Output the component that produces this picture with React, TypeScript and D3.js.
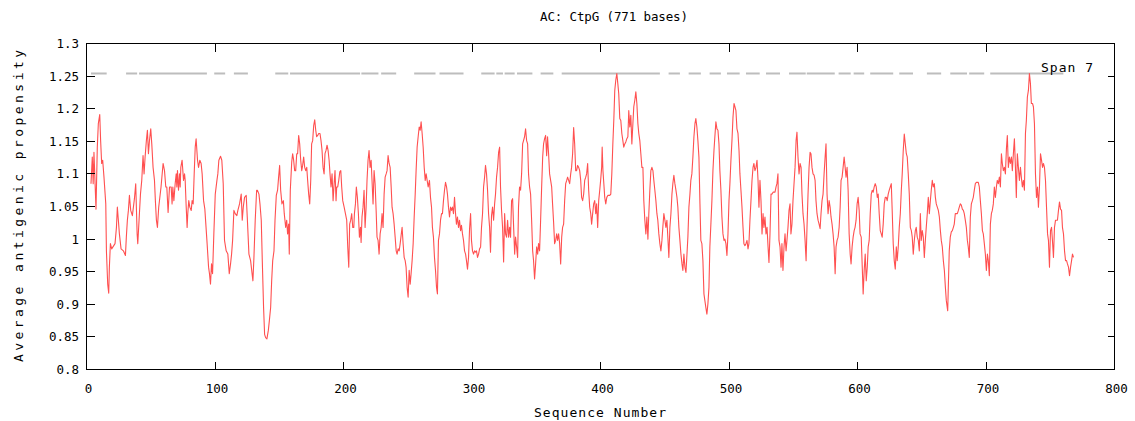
import React from 'react';
import * as d3 from 'd3';

const title = 'AC: CtpG (771 bases)';
const xLabel = 'Sequence Number';
const yLabel = 'Average antigenic propensity';
const spanLabel = 'Span 7';
const xTicks = [0, 100, 200, 300, 400, 500, 600, 700, 800];
const yTicks = [0.8, 0.85, 0.9, 0.95, 1.0, 1.05, 1.1, 1.15, 1.2, 1.25, 1.3];
const yTickLabels = ['0.8', '0.85', '0.9', '0.95', '1', '1.05', '1.1', '1.15', '1.2', '1.25', '1.3'];
const maxPropensity = 1.254;

const dashRanges: [number, number][] = [
  [3.5, 15.7], [30.8, 39.4], [40.9, 93.7], [99.4, 107.9], [114.7, 125.6], [146.9, 157.0],
  [158.4, 212.9], [213.9, 227.2], [229.3, 241.0], [255.0, 271.6], [274.7, 293.4],
  [307.2, 317.6], [318.9, 324.1], [325.4, 333.2], [335.0, 347.0], [353.4, 363.3],
  [369.8, 446.2], [453.0, 461.8], [468.6, 478.1], [484.9, 493.7], [498.4, 508.3],
  [513.2, 523.9], [528.8, 539.7], [546.7, 559.7], [560.5, 582.3], [585.3, 594.7],
  [597.0, 605.2], [609.9, 627.8], [632.5, 643.2], [654.0, 665.1], [672.2, 685.2],
  [686.9, 698.6], [703.3, 760.2],
];

const profile: [number, number][] = [
  [3.5,1.085],[4.5,1.126],[5.2,1.085],[5.8,1.133],[7.4,1.046],[8.4,1.141],[9.2,1.177],[10.3,1.191],[11.0,1.151],[11.8,1.116],[12.6,1.121],[13.6,1.095],[15.0,1.054],[15.5,0.982],[16.5,0.931],[17.3,0.917],[17.8,0.957],[18.6,0.993],[19.6,0.985],[21.2,0.990],[22.2,0.993],[23.3,1.018],[24.0,1.049],[24.8,1.029],[25.6,1.008],[26.9,0.985],[28.7,0.982],[30.3,0.975],[31.0,1.003],[31.8,1.029],[32.6,1.044],[33.4,1.067],[34.4,1.044],[35.7,1.036],[37.3,1.062],[38.3,1.085],[39.4,1.008],[39.9,0.993],[40.9,1.029],[42.0,1.069],[43.0,1.090],[44.0,1.128],[44.8,1.100],[45.6,1.126],[46.6,1.151],[47.4,1.167],[48.2,1.131],[49.0,1.151],[50.0,1.169],[50.8,1.146],[51.8,1.110],[52.9,1.090],[53.6,1.059],[54.4,1.029],[55.2,1.018],[56.2,1.049],[58.0,1.080],[59.6,1.116],[60.7,1.105],[61.7,1.080],[62.5,1.080],[63.5,1.041],[64.6,1.080],
  [65.9,1.080],[66.6,1.054],[67.2,1.080],[68.0,1.059],[69.0,1.085],[69.8,1.100],[70.3,1.080],[70.8,1.105],[71.6,1.075],[72.4,1.100],[72.9,1.080],[73.4,1.110],[74.4,1.121],[75.5,1.090],[76.3,1.100],[76.8,1.090],[77.6,1.049],[78.3,1.018],[78.8,1.039],[79.6,1.059],[80.4,1.049],[81.5,1.044],[82.2,1.059],[83.0,1.054],[83.8,1.100],[84.6,1.141],[85.3,1.154],[86.4,1.121],[87.2,1.110],[88.2,1.121],[89.2,1.116],[90.0,1.100],[91.1,1.059],[92.1,1.046],[93.7,0.998],[95.0,0.957],[95.7,0.947],[96.5,0.931],[97.3,0.962],[98.1,0.947],[99.1,1.008],[100.2,1.069],[101.5,1.090],[102.2,1.100],[103.0,1.121],[104.3,1.127],[105.3,1.121],[106.4,1.085],[107.4,0.998],[108.7,0.982],[110.0,0.977],[111.1,0.947],[112.1,0.962],[112.9,0.977],[113.7,0.998],[114.7,1.044],[115.7,1.039],[117.0,1.036],[117.8,1.044],[119.1,1.054],[120.4,1.069],[121.2,1.029],[122.0,1.049],[123.0,1.064],[124.3,1.067],[125.1,1.034],[126.4,0.977],[127.7,0.967],[129.5,0.936],[130.3,0.972],[131.3,1.029],[132.4,1.075],
  [133.0,1.075],[134.2,1.069],[135.0,1.054],[136.0,1.029],[136.8,0.967],[137.8,0.895],[138.6,0.854],[139.4,0.849],[140.4,0.847],[141.5,0.860],[142.3,0.875],[143.3,0.895],[144.1,0.936],[144.9,0.967],[145.9,0.982],[146.7,1.029],[147.7,1.067],[148.7,1.075],[149.5,1.095],[150.3,1.113],[151.1,1.075],[152.1,1.054],[153.2,1.059],[153.9,1.039],[155.0,1.018],[155.8,1.029],[156.5,1.008],[157.3,1.023],[157.8,0.977],[158.6,1.075],[159.7,1.118],[160.4,1.131],[161.2,1.121],[162.0,1.105],[162.8,1.105],[163.6,1.131],[164.3,1.131],[165.1,1.159],[165.9,1.146],[166.7,1.121],[167.5,1.105],[168.2,1.113],[169.0,1.126],[169.8,1.110],[170.6,1.105],[171.4,1.110],[172.1,1.090],[172.9,1.069],[173.7,1.054],[174.5,1.090],[175.2,1.146],[176.0,1.151],[176.8,1.174],[177.6,1.183],[178.4,1.167],[179.1,1.157],[179.9,1.159],[180.7,1.162],[181.7,1.162],[182.5,1.151],[183.3,1.136],[184.1,1.110],[184.9,1.100],[185.6,1.131],[186.4,1.136],[187.2,1.144],[188.0,1.136],[188.8,1.121],[189.5,1.100],[190.3,1.080],[191.1,1.100],[191.9,1.059],[192.7,1.085],[193.4,1.105],[194.2,1.059],[194.7,1.080],[195.5,1.080],[196.3,1.090],[197.1,1.103],[197.9,1.105],[198.6,1.080],[199.4,1.059],[200.5,1.049],[201.5,1.039],
  [202.5,1.029],[203.3,0.988],[204.1,0.957],[204.8,1.023],[205.6,1.029],[206.4,1.039],[207.2,1.018],[208.0,1.018],[208.5,1.039],[209.3,1.054],[210.0,1.080],[210.8,1.064],[211.6,1.039],[212.4,1.003],[213.2,1.018],[213.7,0.995],[214.4,1.034],[215.2,1.049],[216.0,1.075],[216.8,1.018],[217.6,1.049],[218.3,1.090],[219.1,1.121],[219.9,1.136],[220.7,1.110],[221.5,1.121],[222.2,1.090],[223.0,1.054],[223.8,1.105],[224.6,1.085],[225.4,1.044],[226.1,1.003],[226.9,0.998],[227.7,0.977],[228.5,1.008],[229.3,1.018],[230.0,1.039],[230.8,1.018],[231.6,1.069],[232.4,1.095],[233.2,1.100],[233.9,1.105],[234.7,1.128],[235.5,1.116],[236.3,1.110],[237.1,1.080],[237.8,1.049],[238.6,1.039],[239.4,1.023],[240.2,1.003],[241.0,0.982],[241.7,0.977],[242.5,0.985],[243.3,0.982],[244.1,0.993],[244.8,1.005],[245.6,1.018],[246.4,0.993],[247.2,0.972],[248.0,0.967],[248.7,0.957],[249.5,0.926],[250.3,0.911],[251.1,0.952],[251.9,0.931],[252.6,0.947],[253.4,0.967],[254.2,0.993],[255.0,1.034],[255.8,1.069],[256.5,1.105],[257.3,1.141],[258.1,1.157],[258.9,1.172],[259.7,1.167],[260.4,1.180],[261.2,1.162],[262.0,1.141],[262.8,1.110],[263.6,1.090],[264.3,1.100],[265.1,1.090],[265.9,1.080],
  [266.9,1.090],[267.7,1.064],[268.5,1.049],[269.2,1.018],[270.0,1.003],[270.8,0.972],[271.6,0.952],[272.4,0.926],[273.1,0.916],[273.9,0.998],[274.7,1.008],[275.5,1.029],[276.3,1.039],[277.0,1.039],[277.8,1.059],[278.6,1.075],[279.4,1.087],[280.2,1.080],[280.9,1.069],[281.7,1.049],[282.5,1.034],[283.3,1.049],[284.1,1.044],[284.8,1.049],[285.6,1.039],[286.4,1.064],[287.2,1.039],[287.9,1.023],[288.7,1.034],[289.5,1.018],[290.3,1.029],[291.1,1.013],[291.8,1.021],[292.6,1.008],[293.4,0.998],[294.2,0.982],[295.0,0.977],[295.7,0.967],[296.5,0.954],[297.3,0.972],[298.1,1.016],[298.9,1.039],[299.6,0.998],[300.4,0.982],[301.2,0.977],[302.0,0.982],[302.8,0.980],[303.5,0.982],[304.3,0.972],[305.1,0.977],[305.9,0.985],[306.7,0.988],[307.4,1.018],[308.2,1.039],[309.0,1.080],[309.8,1.095],[310.5,1.113],[311.3,1.100],[312.1,1.075],[312.9,1.039],[313.7,1.018],[314.4,0.980],[315.2,1.036],[316.0,1.049],[316.8,1.029],[317.6,1.054],[318.3,1.069],[319.1,1.095],[319.9,1.110],[320.7,1.133],[321.5,1.141],[322.2,1.080],[323.0,1.044],[323.8,1.018],[324.6,0.965],[325.4,1.039],[326.1,1.008],[326.9,1.003],[327.7,1.029],[328.5,1.003],[329.3,1.018],[330.0,1.003],[330.8,1.059],[331.6,1.062],[332.4,1.018],[333.2,0.977],
  [333.9,1.003],[334.7,0.988],[335.5,0.972],[336.2,1.049],[337.0,1.080],[337.8,1.075],[338.6,1.100],[339.4,1.146],[340.1,1.151],[340.9,1.157],[341.7,1.169],[342.5,1.151],[343.3,1.146],[344.0,1.100],[344.8,1.080],[345.6,1.069],[346.4,1.029],[347.2,0.982],[347.9,0.967],[348.7,0.939],[349.5,0.962],[350.3,0.988],[351.1,0.977],[351.8,0.993],[352.6,0.982],[353.4,1.029],[354.2,1.080],[355.0,1.126],[355.7,1.146],[356.5,1.154],[357.3,1.159],[358.1,1.128],[358.8,1.157],[359.6,1.131],[360.4,1.100],[361.2,1.090],[362.0,1.080],[362.7,1.054],[363.5,1.026],[364.3,0.993],[365.1,0.998],[365.9,1.008],[366.6,0.998],[367.4,1.008],[368.2,0.993],[369.0,0.962],[369.8,1.003],[370.5,1.018],[371.3,1.023],[372.1,1.059],[372.9,1.085],[373.7,1.090],[374.4,1.095],[375.2,1.090],[376.0,1.085],[376.8,1.100],[377.5,1.110],[378.3,1.131],[379.1,1.171],[379.9,1.146],[380.7,1.105],[381.4,1.105],[382.2,1.113],[383.0,1.110],[383.8,1.105],[384.6,1.090],[385.3,1.064],[386.1,1.059],[386.9,1.069],[387.7,1.090],[388.5,1.095],[389.2,1.100],[390.0,1.116],[390.8,1.075],[391.6,1.049],[392.4,1.039],[393.1,1.023],[393.9,1.039],[394.7,1.054],[395.5,1.059],[396.3,1.039],[397.0,1.054],[397.8,1.018],[398.6,1.059],[399.4,1.075],[400.1,1.090],[400.9,1.110],
  [401.3,1.141],[401.9,1.105],[402.6,1.085],[403.3,1.064],[404.1,1.054],[404.9,1.064],[405.7,1.067],[406.5,1.067],[407.2,1.067],[408.0,1.069],[408.8,1.100],[409.6,1.146],[410.4,1.185],[411.1,1.228],[411.9,1.244],[412.7,1.254],[413.5,1.238],[414.2,1.223],[415.0,1.185],[415.8,1.182],[416.6,1.162],[417.4,1.151],[418.1,1.141],[418.9,1.146],[419.7,1.149],[420.5,1.154],[421.3,1.157],[422.0,1.197],[422.8,1.172],[423.6,1.190],[424.4,1.146],[425.2,1.177],[425.9,1.203],[426.7,1.213],[427.5,1.226],[428.3,1.208],[429.1,1.177],[429.8,1.162],[430.6,1.151],[431.4,1.131],[432.2,1.110],[433.0,1.110],[433.7,1.059],[434.5,1.029],[435.3,1.008],[436.1,1.034],[436.9,1.000],[437.6,1.039],[438.4,1.075],[439.2,1.105],[440.0,1.110],[440.8,1.105],[441.5,1.090],[442.3,1.075],[443.1,1.059],[443.9,1.039],[444.6,1.029],[445.4,1.008],[446.2,0.993],[447.0,0.982],[447.8,0.998],[448.5,1.018],[449.3,1.039],[450.1,1.029],[450.9,1.018],[451.7,1.029],[452.4,1.003],[453.2,0.972],[454.0,1.018],[454.8,1.039],[455.6,1.069],[456.3,1.085],[457.1,1.098],[457.9,1.085],[458.7,1.075],[459.5,1.064],[460.2,1.049],[461.0,1.018],[461.8,0.998],[462.6,0.977],[463.4,0.962],[464.1,0.952],[464.9,0.977],[465.7,0.957],[466.5,0.949],[467.3,0.977],[468.0,1.003],
  [468.8,1.049],[469.6,1.069],[470.3,1.090],[471.1,1.100],[471.9,1.126],[472.7,1.157],[473.5,1.177],[474.2,1.185],[475.0,1.172],[475.8,1.151],[476.6,1.126],[477.4,1.054],[478.1,0.998],[478.9,0.993],[479.7,0.967],[480.5,0.916],[481.2,0.906],[482.0,0.895],[482.8,0.885],[483.6,0.901],[484.4,0.926],[485.1,0.988],[485.9,1.023],[486.7,1.059],[487.5,1.105],[488.3,1.136],[489.0,1.157],[489.8,1.180],[490.6,1.169],[491.4,1.167],[492.2,1.146],[492.9,1.105],[493.7,1.075],[494.5,1.034],[495.3,1.008],[496.1,0.998],[496.8,1.000],[497.6,0.993],[498.4,0.975],[499.2,1.008],[500.0,1.059],[500.7,1.085],[501.5,1.121],[502.3,1.151],[503.1,1.187],[503.9,1.208],[504.6,1.203],[505.4,1.197],[506.2,1.169],[507.0,1.162],[507.8,1.136],[508.5,1.100],[509.3,1.075],[510.1,1.049],[510.9,1.018],[511.6,0.993],[512.4,0.990],[513.2,0.993],[514.0,0.998],[514.8,0.985],[515.5,0.993],[516.3,1.029],[517.1,1.059],[517.9,1.090],[518.7,1.110],[519.4,1.116],[520.2,1.105],[521.0,1.110],[521.8,1.121],[522.6,1.090],[523.3,1.049],[524.1,1.090],[524.9,1.059],[525.7,1.008],[526.5,1.039],[527.2,1.018],[528.0,1.034],[528.8,1.008],[529.6,1.018],[530.4,0.988],[531.1,0.964],[531.9,1.008],[532.7,1.069],[533.5,1.069],[534.3,1.072],[535.0,1.072],
  [535.8,1.072],[536.6,1.080],[537.3,1.085],[538.1,1.100],[538.9,0.998],[539.7,0.988],[540.5,0.957],[541.2,0.993],[542.0,0.952],[542.8,0.988],[543.6,1.008],[544.4,0.982],[545.1,0.998],[545.9,1.018],[546.7,1.044],[547.5,1.054],[548.2,1.008],[549.0,1.023],[549.8,1.059],[550.6,1.085],[551.4,1.110],[552.2,1.151],[552.9,1.164],[553.7,1.126],[554.5,1.100],[555.3,1.116],[556.1,1.110],[556.8,1.069],[557.6,1.039],[558.4,1.023],[559.2,0.998],[560.0,0.967],[560.7,1.018],[561.5,1.069],[562.3,1.110],[563.1,1.133],[563.8,1.131],[564.6,1.110],[565.4,1.100],[566.2,1.098],[567.0,1.090],[567.7,1.059],[568.5,1.039],[569.3,1.029],[570.1,1.023],[570.9,1.016],[571.6,1.039],[572.4,1.059],[573.2,1.069],[574.0,1.100],[574.8,1.126],[575.5,1.146],[576.3,1.069],[577.1,1.039],[577.9,1.059],[578.7,1.049],[579.4,1.034],[580.2,1.023],[581.0,1.008],[581.8,0.988],[582.6,0.947],[583.3,0.988],[584.1,0.998],[584.9,1.003],[585.7,1.018],[586.5,1.049],[587.2,1.090],[588.0,1.095],[588.8,1.110],[589.6,1.126],[590.4,1.110],[591.1,1.095],[591.9,1.110],[592.7,1.075],[593.5,1.008],[594.3,0.977],[595.0,0.962],[595.8,0.988],[596.6,1.003],[597.4,1.013],[598.1,1.018],[598.9,1.029],[599.7,1.054],[600.5,1.064],[601.3,1.044],[602.0,1.008],
  [602.9,1.003],[603.7,0.957],[604.4,0.916],[605.2,0.952],[606.0,0.977],[606.8,0.936],[607.6,0.957],[608.3,0.988],[609.1,0.998],[609.9,1.039],[610.7,1.069],[611.5,1.075],[612.2,1.072],[613.0,1.080],[613.8,1.085],[614.6,1.080],[615.4,1.064],[616.1,1.069],[616.9,1.039],[617.7,1.013],[618.5,1.008],[619.2,1.003],[620.0,1.023],[620.8,1.054],[621.6,1.064],[622.4,1.064],[623.1,1.059],[623.9,1.069],[624.7,1.075],[625.5,1.080],[626.3,1.085],[627.0,1.044],[627.8,0.993],[628.6,0.967],[629.4,0.954],[630.2,0.988],[630.9,0.967],[631.7,0.988],[632.5,1.018],[633.3,1.039],[634.1,1.075],[634.8,1.100],[635.6,1.136],[636.4,1.161],[637.2,1.146],[638.0,1.131],[638.7,1.126],[639.5,1.100],[640.3,1.069],[641.1,1.018],[641.9,1.013],[642.6,1.003],[643.4,0.977],[644.2,0.998],[645.0,1.013],[645.7,1.018],[646.5,1.003],[647.3,0.998],[648.1,0.982],[648.9,1.039],[649.6,0.998],[650.4,1.013],[651.2,1.003],[652.0,0.972],[652.8,0.998],[653.5,1.018],[654.3,1.039],[655.1,1.064],[655.9,1.039],[656.7,1.059],[657.4,1.075],[658.2,1.090],[659.0,1.080],[659.8,1.085],[660.6,1.064],[661.3,1.054],[662.1,1.049],[662.9,1.044],[663.7,1.034],[664.5,1.013],[665.2,0.998],[666.0,0.988],[666.8,0.967],[667.6,0.952],[668.4,0.926],[669.1,0.906],[670.2,0.890],
  [671.4,0.982],[672.2,1.003],[673.0,1.011],[673.8,1.013],[674.6,1.018],[675.3,1.023],[676.1,1.039],[676.9,1.039],[677.7,1.039],[678.5,1.044],[679.2,1.049],[680.0,1.054],[680.8,1.052],[681.6,1.046],[682.4,1.044],[683.1,1.039],[683.9,1.029],[684.7,1.018],[685.5,0.998],[686.2,0.988],[687.0,0.972],[687.8,1.034],[688.6,1.054],[689.4,1.059],[690.1,1.064],[690.9,1.075],[691.7,1.085],[692.5,1.087],[693.3,1.087],[694.0,1.087],[694.8,1.080],[695.6,1.059],[696.4,1.039],[697.2,1.013],[697.9,1.008],[698.7,0.993],[699.5,0.977],[700.3,0.952],[701.1,0.977],[701.8,0.967],[702.6,0.944],[703.4,1.023],[704.2,1.039],[704.9,1.044],[705.7,1.054],[706.5,1.080],[707.3,1.064],[708.1,1.080],[708.8,1.090],[709.6,1.085],[710.4,1.095],[711.2,1.080],[712.0,1.131],[712.7,1.116],[713.5,1.105],[714.3,1.110],[715.1,1.100],[715.9,1.139],[716.6,1.159],[717.4,1.110],[718.2,1.126],[719.0,1.116],[719.8,1.126],[720.5,1.105],[721.3,1.131],[722.1,1.154],[722.9,1.110],[723.6,1.064],[724.4,1.131],[725.2,1.110],[726.0,1.090],[726.8,1.110],[727.5,1.095],[728.3,1.080],[729.1,1.090],[729.9,1.075],[730.7,1.162],[731.4,1.182],[732.2,1.218],[733.0,1.228],[733.8,1.254],[734.6,1.238],[735.3,1.208],
  [736.2,1.208],[736.9,1.203],[737.7,1.177],[738.5,1.100],[739.3,1.064],[740.1,1.080],[740.8,1.049],[741.6,1.080],[742.4,1.131],[743.2,1.121],[744.0,1.110],[744.7,1.116],[745.5,1.110],[746.3,1.090],[747.1,1.049],[747.9,1.008],[748.6,0.998],[749.4,0.957],[750.2,1.013],[751.0,1.018],[751.7,0.998],[752.5,0.972],[753.3,1.018],[754.1,1.029],[754.9,1.029],[755.6,1.029],[756.4,1.044],[757.2,1.057],[758.0,1.046],[758.8,1.044],[759.5,1.018],[760.3,1.008],[761.1,0.982],[761.9,0.967],[762.7,0.967],[763.4,0.962],[764.2,0.957],[765.0,0.944],[765.8,0.957],[766.6,0.967],[767.3,0.977],[768.1,0.972],
];

const W = 1135;
const H = 421;
const FONT = '"DejaVu Sans Mono", monospace';

export default function App() {
  const x = d3.scaleLinear().domain([0, 800]).range([86.5, 1114.5]);
  const y = d3.scaleLinear().domain([0.8, 1.3]).range([369.5, 43.5]);
  const line = d3.line<[number, number]>().x((d) => x(d[0])).y((d) => y(d[1]));
  const left = x(0);
  const right = x(800);
  const top = y(1.3);
  const bottom = y(0.8);
  const yMax = y(maxPropensity);

  return (
    <svg
      width={W}
      height={H}
      viewBox={`0 0 ${W} ${H}`}
      style={{ position: 'absolute', left: 0, top: 0, display: 'block', background: '#fff' }}
    >
      <rect x={0} y={0} width={W} height={H} fill="#fff" />
      {dashRanges.map(([a, b], i) => (
        <line key={'d' + i} x1={x(a)} x2={x(b)} y1={yMax} y2={yMax} stroke="#bdbdbd" strokeWidth={2} />
      ))}
      <path d={line(profile) || ''} fill="none" stroke="#ff5050" strokeWidth={1.1} strokeLinejoin="round" />
      <rect x={left} y={top} width={right - left} height={bottom - top} fill="none" stroke="#000" strokeWidth={1} shapeRendering="crispEdges" />
      {xTicks.map((t) => (
        <g key={'x' + t} shapeRendering="crispEdges">
          <line x1={x(t)} x2={x(t)} y1={bottom} y2={bottom - 8} stroke="#000" />
          <line x1={x(t)} x2={x(t)} y1={top} y2={top + 8} stroke="#000" />
          <text x={x(t) + 2} y={393} textAnchor="middle" fontFamily={FONT} fontSize={12.5} fill="#000">{t}</text>
        </g>
      ))}
      {yTicks.map((t, i) => (
        <g key={'y' + i} shapeRendering="crispEdges">
          <line x1={left} x2={left + 8} y1={y(t)} y2={y(t)} stroke="#000" />
          <line x1={right} x2={right - 7} y1={y(t)} y2={y(t)} stroke="#000" />
          <text x={79} y={y(t) + 4.5} textAnchor="end" fontFamily={FONT} fontSize={12.5} fill="#000">{yTickLabels[i]}</text>
        </g>
      ))}
      <text x={540} y={21} fontFamily={FONT} fontSize={12.5} fill="#000" textLength={148} lengthAdjust="spacing">{title}</text>
      <text x={534} y={417} fontFamily={FONT} fontSize={13} fill="#000" textLength={132} lengthAdjust="spacing">{xLabel}</text>
      <text x={0} y={0} transform={`translate(23,362) rotate(-90)`} fontFamily={FONT} fontSize={13} fill="#000" textLength={312} lengthAdjust="spacing">{yLabel}</text>
      <text x={1041} y={72} fontFamily={FONT} fontSize={13} fill="#000" textLength={52} lengthAdjust="spacing">{spanLabel}</text>
    </svg>
  );
}
